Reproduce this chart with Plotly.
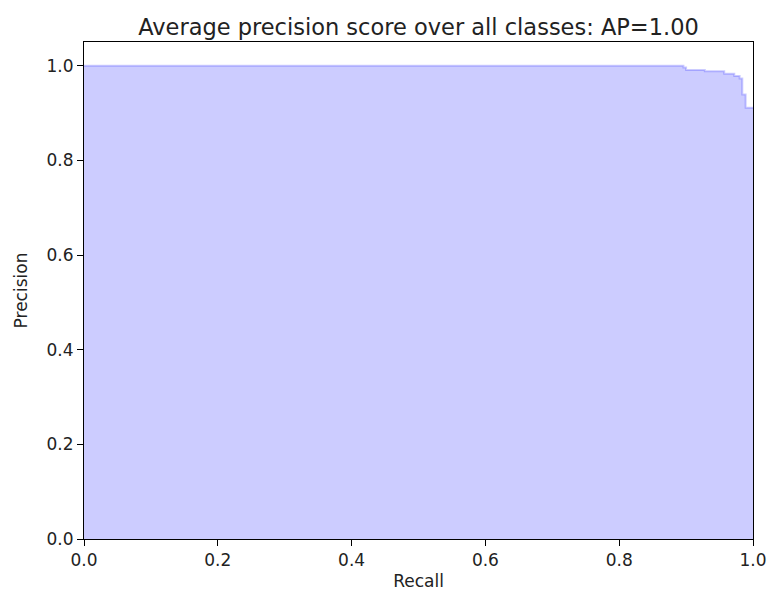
import plotly.graph_objects as go

recall = [0.0, 0.896, 0.900, 0.928, 0.957, 0.972, 0.980, 0.984, 0.989, 1.0]
precision = [1.0, 0.996, 0.991, 0.988, 0.983, 0.978, 0.973, 0.939, 0.911, 0.911]

title_text = "Average precision score over all classes: AP=1.00"

fig = go.Figure()
fig.add_trace(go.Scatter(
    x=recall, y=precision, mode="lines", line_shape="hv",
    fill="tozeroy", fillcolor="rgba(0,0,255,0.2)",
    line=dict(color="rgba(0,0,255,0.2)", width=2),
    showlegend=False, hoverinfo="skip",
))

axis_common = dict(
    showline=True, linecolor="black", linewidth=1, mirror=True,
    ticks="outside", ticklen=6, tickwidth=1, tickcolor="black",
    showgrid=False, zeroline=False, tickformat=".1f", automargin=False,
    ticklabeloverflow="allow",
    tickfont=dict(family="DejaVu Sans", size=17, color="#222"),
    title_font=dict(family="DejaVu Sans", size=17, color="#222"),
)

fig.update_layout(
    width=768, height=596,
    margin=dict(l=84, r=15, t=41.5, b=56.5),
    paper_bgcolor="white", plot_bgcolor="white",
    font=dict(family="DejaVu Sans", color="#222"),
    title=dict(text=title_text, x=0.5, xref="paper", xanchor="center",
               y=1, yref="paper", yanchor="bottom", pad=dict(b=7),
               font=dict(family="DejaVu Sans", size=22.5, color="#222")),
    xaxis=dict(range=[0, 1], dtick=0.2, title=dict(text="Recall", standoff=5), **axis_common),
    yaxis=dict(range=[0, 1.05], dtick=0.2, title=dict(text="Precision", standoff=14), **axis_common),
)

fig.write_html("out.html")
